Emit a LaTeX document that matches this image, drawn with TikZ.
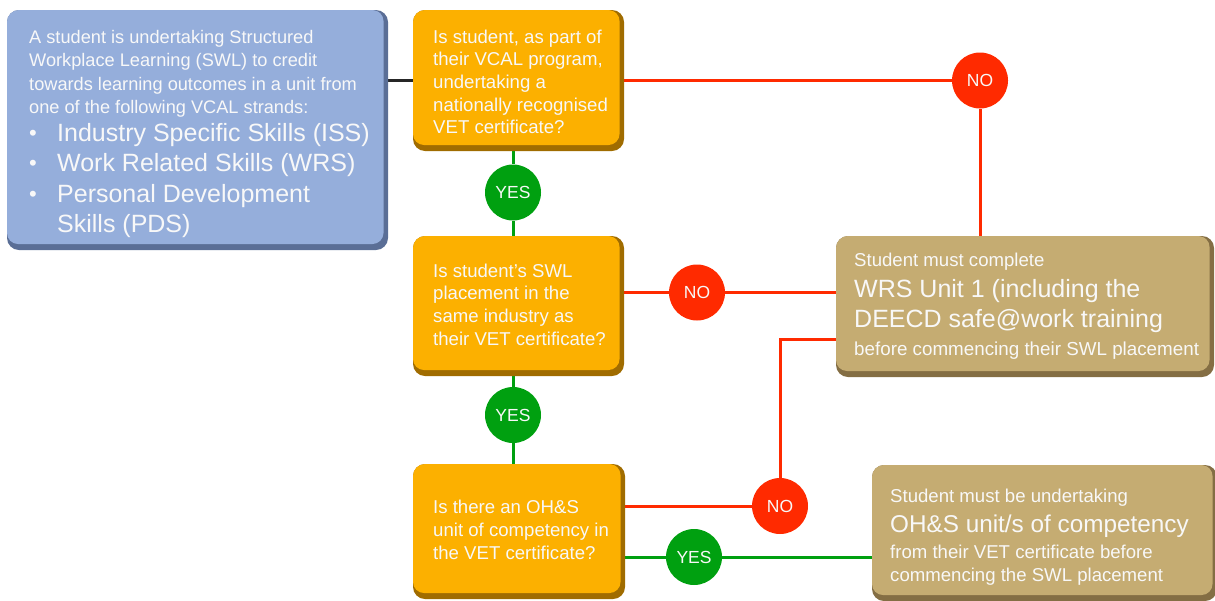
\documentclass[tikz,border=0pt]{standalone}
\usepackage{fontspec}
\setmainfont{Liberation Sans}
\usetikzlibrary{backgrounds,calc}
\definecolor{bluelight}{HTML}{95AEDB}
\definecolor{bluedark}{HTML}{5A6E96}
\definecolor{orlight}{HTML}{FCB000}
\definecolor{ordark}{HTML}{A06C00}
\definecolor{tanlight}{HTML}{C5AC72}
\definecolor{tandark}{HTML}{846E44}
\definecolor{nored}{HTML}{FF2A00}
\definecolor{yesgreen}{HTML}{00A010}
\definecolor{txtwhite}{HTML}{F8F8F8}
\tikzset{
  bevelbox/.style 2 args={rectangle, rounded corners=12pt, inner sep=0pt, fill=#2,
    path picture={\fill[#1, rounded corners=11pt] (path picture bounding box.north west) rectangle ([xshift=-4.5pt,yshift=6pt]path picture bounding box.south east);}},
  txt/.style={inner sep=0pt, text=txtwhite, align=left},
  fsmall/.style={font=\fontsize{18.6}{22.7}\selectfont},
  fblue/.style={font=\fontsize{18.2}{23.5}\selectfont},
  fbig/.style={font=\fontsize{25}{30.5}\selectfont},
  circ/.style={circle, inner sep=0pt, minimum size=56pt, text=txtwhite, font=\fontsize{17.5}{20}\selectfont},
  nocirc/.style={circ, fill=nored},
  yescirc/.style={circ, fill=yesgreen},
  redline/.style={draw=nored, line width=3pt},
  greenline/.style={draw=yesgreen, line width=3pt},
  blackline/.style={draw=black!85, line width=3pt},
}
\newcommand{\blt}{\makebox[28pt][l]{\fontsize{22}{20}\selectfont\raisebox{1pt}{\textbullet}}}
\begin{document}
\begin{tikzpicture}[x=1pt,y=-1pt]
\useasboundingbox (0,0) rectangle (1215,600);
% boxes
\node[bevelbox={bluelight}{bluedark}, minimum width=381pt, minimum height=240pt] (intro) at (197.5,130) {};
\node[bevelbox={orlight}{ordark}, minimum width=211pt, minimum height=141pt] (q1) at (518.5,80.5) {};
\node[bevelbox={orlight}{ordark}, minimum width=211pt, minimum height=140pt] (q2) at (518.5,306) {};
\node[bevelbox={orlight}{ordark}, minimum width=212pt, minimum height=135pt] (q3) at (519,531.5) {};
\node[bevelbox={tanlight}{tandark}, minimum width=378pt, minimum height=141pt] (wrs) at (1025,306.5) {};
\node[bevelbox={tanlight}{tandark}, minimum width=345pt, minimum height=136pt] (ohs) at (1044.5,533) {};
% circles
\node[nocirc] (no1) at (980,80.5) {NO};
\node[nocirc] (no2) at (697,292.5) {NO};
\node[nocirc] (no3) at (780,506) {NO};
\node[yescirc] (yes1) at (513,192.5) {YES};
\node[yescirc] (yes2) at (513,415) {YES};
\node[yescirc] (yes3) at (694,557) {YES};
\coordinate (bend) at (780,339);
% connectors
\begin{scope}[on background layer]
\draw[blackline] (intro.east |- q1) -- (q1.west);
\draw[redline] (q1.east) -- (no1) -- (no1 |- wrs.north);
\draw[greenline] (yes1 |- q1.south) -- (yes1) -- (yes1 |- q2.north);
\draw[greenline] (yes2 |- q2.south) -- (yes2) -- (yes2 |- q3.north);
\draw[redline] (q2.east |- no2) -- (no2) -- (no2 -| wrs.west);
\draw[redline] (q3.east |- no3) -- (no3) -- (bend) -- (bend -| wrs.west);
\draw[greenline] (q3.east |- yes3) -- (yes3) -- (yes3 -| ohs.west);
\end{scope}
% texts
\node[txt, fblue, anchor=north west] (tintro) at (29,29.7) {A student is undertaking Structured\\Workplace Learning (SWL) to credit\\towards learning outcomes in a unit from\\one of the following VCAL strands:};
\node[txt, fbig, anchor=north west] (tbullets) at (29,123) {\blt Industry Specific Skills (ISS)\\\blt Work Related Skills (WRS)\\\blt Personal Development\\\hspace*{28pt}Skills (PDS)};
\node[txt, fsmall, anchor=north west] (tq1) at (433,29.4) {Is student, as part of\\their VCAL program,\\undertaking a\\nationally recognised\\VET certificate?};
\node[txt, fsmall, anchor=north west] (tq2) at (433,263.4) {Is student’s SWL\\placement in the\\same industry as\\their VET certificate?};
\node[txt, fsmall, anchor=north west] (tq3) at (433,500) {Is there an OH\&S\\unit of competency in\\the VET certificate?};
\node[txt, fsmall, anchor=base west] (tw1) at (854,266) {Student must complete};
\node[txt, fbig, anchor=base west] (tw2) at (854,297) {WRS Unit 1 (including the};
\node[txt, fbig, anchor=base west] (tw3) at (854,327) {DEECD safe@work training};
\node[txt, font=\fontsize{18.8}{22}\selectfont, anchor=base west] (tw4) at (854,355) {before commencing their SWL placement};
\node[txt, fsmall, anchor=base west] (to1) at (890,502) {Student must be undertaking};
\node[txt, font=\fontsize{24.3}{29}\selectfont, anchor=base west] (to2) at (890,532) {OH\&S unit/s of competency};
\node[txt, fsmall, anchor=base west] (to3) at (890,558) {from their VET certificate before};
\node[txt, fsmall, anchor=base west] (to4) at (890,581) {commencing the SWL placement};
\end{tikzpicture}
\end{document}
